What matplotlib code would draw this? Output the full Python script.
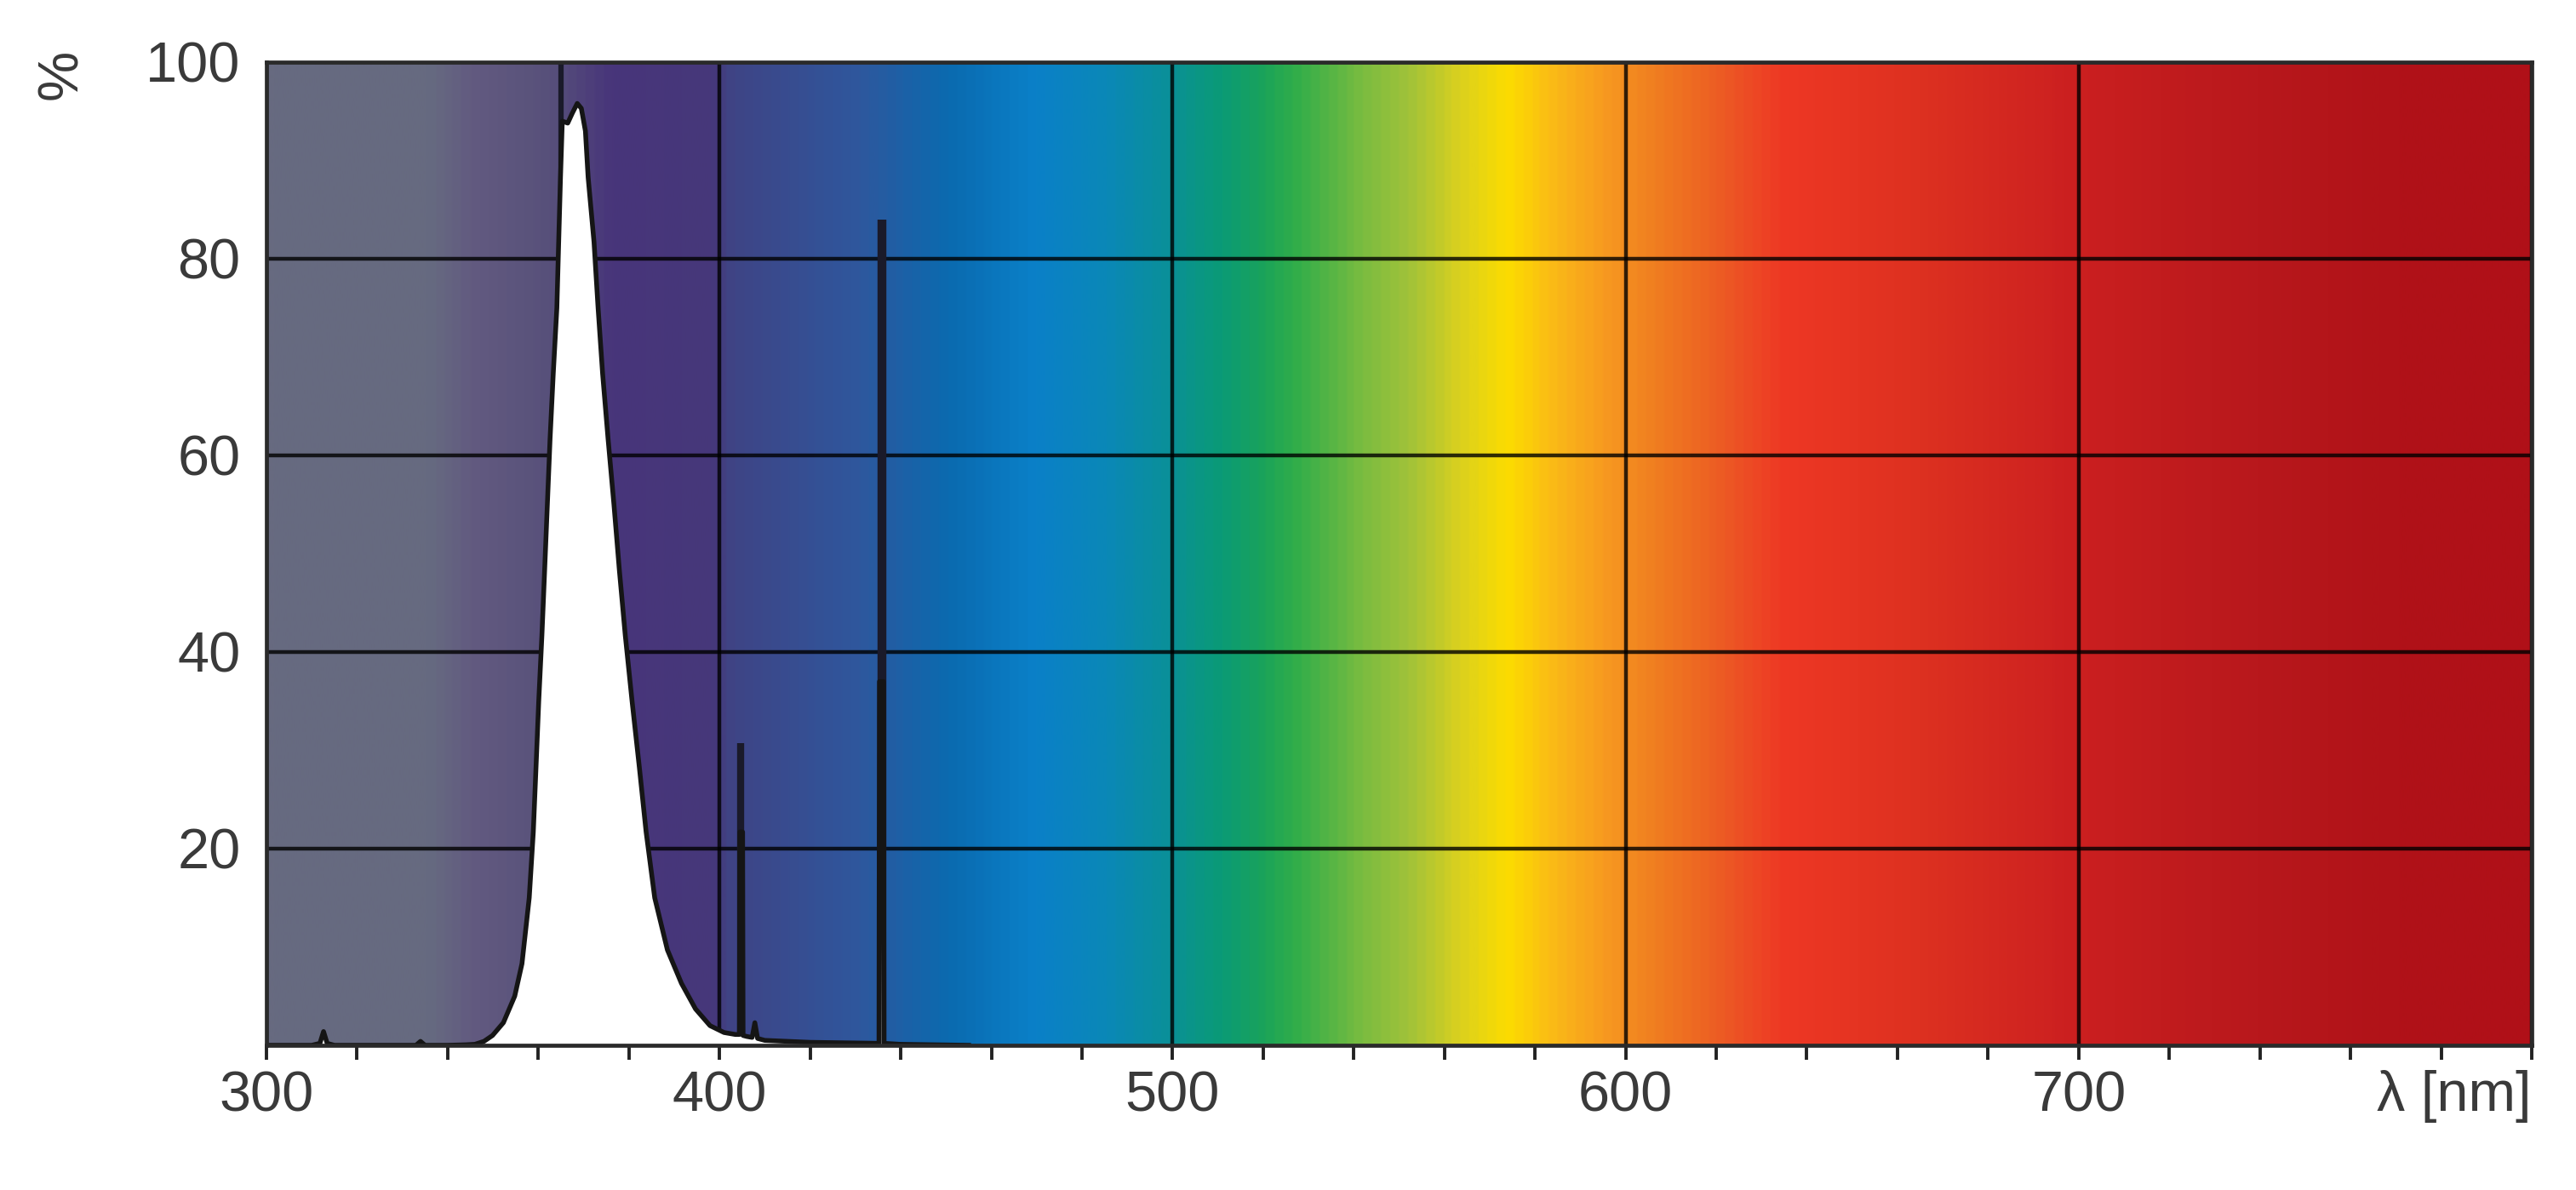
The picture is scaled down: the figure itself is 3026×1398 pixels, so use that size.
import matplotlib
matplotlib.use("Agg")
import matplotlib.pyplot as plt
import numpy as np
from matplotlib.colors import LinearSegmentedColormap

plt.rcParams['font.family'] = ['Liberation Sans', 'DejaVu Sans']

# continuum + narrow line bases (nm, %)
wavelength = [300, 310, 311.8, 312.6, 313.4, 315, 330, 333, 334, 335, 340, 344,
              346, 348, 349.9, 352.3, 354.8, 356.4, 358.0, 358.9, 359.5, 360.1,
              360.8, 361.4, 362.0, 362.6, 363.3, 364.1, 364.5, 364.9, 365.3,
              366.5, 367.5, 368.6, 369.5, 370.4, 371.0, 372.3, 373.2, 374.2,
              375.4, 376.7, 377.9, 379.2, 380.7, 382.3, 383.8, 385.7, 388.5,
              391.6, 394.7, 397.9, 401.0, 403.5, 404.4, 404.5, 405.1, 405.2, 406,
              407.2, 407.8, 408.4, 410, 420, 435.2, 435.3, 436.2, 436.3, 440, 455]
intensity = [0, 0, 0.2, 1.4, 0.2, 0, 0, 0, 0.4, 0, 0, 0.05,
             0.1, 0.4, 1.0, 2.3, 5.0, 8.3, 15, 21.7, 28.3, 35,
             41.7, 48.3, 55, 61.7, 68.3, 75, 81.7, 88.3, 94,
             93.8, 94.8, 95.8, 95.3, 93, 88.3, 81.7, 75, 68.3,
             61.7, 55, 48.3, 41.7, 35, 28.3, 21.7, 15, 9.7,
             6.3, 3.7, 2.0, 1.3, 1.1, 1.1, 21.7, 21.7, 1.0, 0.9,
             0.8, 2.3, 0.7, 0.5, 0.3, 0.2, 37, 37, 0.2, 0.1, 0]

# mercury lines (nm) and their peak heights (%)
hg_wl = [365.0, 404.7, 435.8]
hg_peak = [103, 30.7, 84]
hg_width = [4.5, 6, 7.5]

# visible spectrum backdrop stops
bg_wl = [300, 335, 345, 362, 375, 398, 402, 430, 450, 469, 485, 499, 510, 520,
         527, 542, 552, 563, 574, 585, 596, 606, 622, 635, 667, 698, 740, 772, 800]
bg_col = ['#676a80', '#666a80', '#625a80', '#57507a', '#48357a', '#46387a',
          '#3f4485', '#2f579d', '#0b6aaf', '#0a80c8', '#0a88b8', '#0a9098',
          '#0a9a78', '#1aa35a', '#30ad4a', '#7abc40', '#a0c23a', '#d8d020',
          '#fcdc00', '#fab818', '#f79820', '#f08020', '#ec5a24', '#ee3824',
          '#dc3020', '#cc2020', '#b8181c', '#b01218', '#b01018']

x_major = [300, 400, 500, 600, 700, 800]
x_labels = ['300', '400', '500', '600', '700', '']
y_major = [20, 40, 60, 80, 100]

fig = plt.figure(figsize=(30.26, 13.98), dpi=100)
ax = fig.add_axes([313 / 3026, 1 - 1228 / 1398, (2974 - 313) / 3026, (1228 - 73) / 1398])

stops = [((w - 300) / 500, c) for w, c in zip(bg_wl, bg_col)]
cmap = LinearSegmentedColormap.from_list('spectrum', stops)
ax.imshow(np.linspace(0, 1, 1000)[None, :], cmap=cmap, aspect='auto',
          extent=[300, 800, 0, 100], zorder=0, interpolation='bilinear')

ax.set_axisbelow(True)
ax.grid(True, color='black', alpha=0.8, linewidth=3.2)

for w, p, lw in zip(hg_wl, hg_peak, hg_width):
    ax.vlines(w, 0, p, color='#1a1a2a', linewidth=lw, zorder=2)

ax.fill_between(wavelength, intensity, 0, color='white', zorder=3, linewidth=0)
ax.plot(wavelength, intensity, color='#151515', linewidth=4.0, zorder=4)

ax.set_xlim(300, 800)
ax.set_ylim(0, 100)
ax.set_xticks(x_major)
ax.set_xticklabels(x_labels)
ax.set_xticks(np.arange(300, 801, 20), minor=True)
ax.set_yticks(y_major)
ax.tick_params(axis='x', which='both', direction='out', length=12, width=2.8,
               color='#222222', pad=9, labelsize=48, labelcolor='#3a3a3a')
ax.tick_params(axis='y', length=0, pad=22, labelsize=48, labelcolor='#3a3a3a')
for s in ax.spines.values():
    s.set_color('#2a2a2a')
    s.set_linewidth(3.4)
    s.set_zorder(5)

ax.annotate('λ [nm]', xy=(1, 0), xycoords='axes fraction', xytext=(0, -21),
            textcoords='offset points', ha='right', va='top', fontsize=48,
            color='#3a3a3a')
fig.text(73 / 3026, 1 - 87 / 1398, '%', rotation=90, ha='center', va='center',
         fontsize=48, color='#3a3a3a')

fig.savefig('out.png', dpi=100)
